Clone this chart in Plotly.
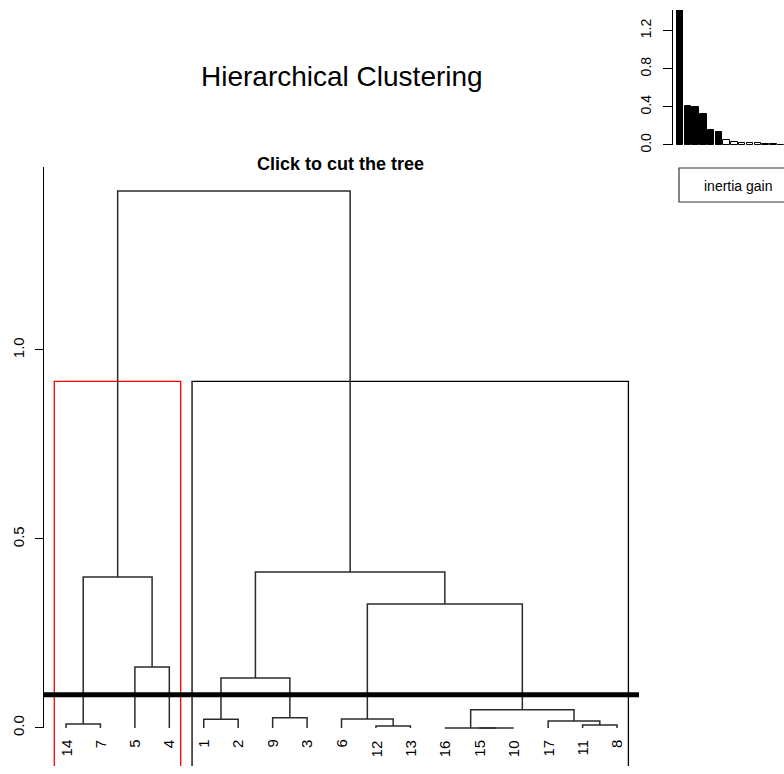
import plotly.graph_objects as go

# ---------------- data ----------------
leaf_labels = ["14", "7", "5", "4", "1", "2", "9", "3", "6", "12", "13",
               "16", "15", "10", "17", "11", "8"]
# hclust-style merges: negative = leaf position (1-based, display order),
# positive = index (1-based) of an earlier merge
merge_left = [-13, -12, -10, -16, -1, -15, -5, -9, -7, 2, 7, -3, 8, 5, 11, 14]
merge_right = [-14, 1, -11, -17, -2, 4, -6, 3, -8, 6, 9, -4, 10, 12, 13, 15]
merge_height = [0.0, 0.0, 0.005, 0.008, 0.0106, 0.0185, 0.023, 0.0235, 0.027,
                0.048, 0.132, 0.161, 0.328, 0.3995, 0.4127, 1.4206]
cut_height = 0.088
n_rect_clusters = 2
rect_colors = ["red", "black"]
y_tick_vals = [0.0, 0.5, 1.0]
y_tick_text = ["0.0", "0.5", "1.0"]
inset_tick_vals = [0.0, 0.4, 0.8, 1.2]
inset_tick_text = ["0.0", "0.4", "0.8", "1.2"]
title_text = "Hierarchical Clustering"
subtitle_text = "Click to cut the tree"
inset_legend_text = "inertia gain"

# ---------------- geometry (pixels) ----------------
W, H = 784, 774
PAGE_S = 782.0 / 774.0          # observed vertical page-to-picture factor
LEAF0_PX, LEAF_STEP = 66.0, 34.44
Y0_PX, Y_SCALE = 728.0, 378.0
FONT = "Liberation Sans, Arial, sans-serif"


def px_to_x(px):
    return 1 + (px - LEAF0_PX) / LEAF_STEP


def py_to_paper(py):
    return (H - py * PAGE_S) / H


x_range = [px_to_x(0), px_to_x(W)]
y_range = [(Y0_PX - H / PAGE_S) / Y_SCALE, Y0_PX / Y_SCALE]

# ---------------- dendrogram ----------------
n_merge = len(merge_height)
node_x = {}


def child_coord(c):
    if c < 0:
        return float(-c), 0.0
    return node_x[c], merge_height[c - 1]


seg_x, seg_y = [], []
for i in range(n_merge):
    xl, hl = child_coord(merge_left[i])
    xr, hr = child_coord(merge_right[i])
    h = merge_height[i]
    node_x[i + 1] = (xl + xr) / 2
    seg_x += [xl, xl, xr, xr, None]
    seg_y += [hl, h, h, hr, None]


def leaves_of(c):
    if c < 0:
        return [-c]
    return leaves_of(merge_left[c - 1]) + leaves_of(merge_right[c - 1])


# clusters for the rectangles (k = n_rect_clusters)
top_merges = set(range(n_merge - n_rect_clusters + 2, n_merge + 1))
roots = []
for m in top_merges:
    for c in (merge_left[m - 1], merge_right[m - 1]):
        if c < 0 or c not in top_merges:
            roots.append(c)
clusters = sorted([sorted(leaves_of(r)) for r in roots], key=lambda l: l[0])
sorted_h = sorted(merge_height, reverse=True)
rect_top = (sorted_h[n_rect_clusters - 2] + sorted_h[n_rect_clusters - 1]) / 2

fig = go.Figure()

for ci, leaves in enumerate(clusters):
    x0 = leaves[0] - 1 + 0.66
    x1 = leaves[-1] + 0.33
    fig.add_trace(go.Scatter(
        x=[x0, x0, x1, x1], y=[y_range[0], rect_top, rect_top, y_range[0]],
        mode="lines", line=dict(color=rect_colors[ci], width=1.3),
        hoverinfo="skip", showlegend=False, xaxis="x", yaxis="y"))

fig.add_trace(go.Scatter(
    x=seg_x, y=seg_y, mode="lines", line=dict(color="#2b2b2b", width=1.5),
    hoverinfo="skip", showlegend=False, xaxis="x", yaxis="y"))

# cut line spans the R plotting region
usr_x = [px_to_x(43), px_to_x(639)]
fig.add_trace(go.Scatter(
    x=usr_x, y=[cut_height, cut_height], mode="lines",
    line=dict(color="black", width=5),
    hoverinfo="skip", showlegend=False, xaxis="x", yaxis="y3"))

# leaf labels
for i, lab in enumerate(leaf_labels):
    fig.add_annotation(
        x=i + 1, y=(Y0_PX - 739) / Y_SCALE, xref="x", yref="y", text=lab,
        textangle=-90, showarrow=False, xanchor="center", yanchor="top",
        borderpad=0, font=dict(family=FONT, size=15, color="black"))

# ---------------- inset: inertia gain ----------------
gain = sorted(merge_height, reverse=True)
n_black = sum(1 for g in gain if g > cut_height)
bar_colors = ["black"] * n_black + ["white"] * (len(gain) - n_black)
BAR0_PX, BAR_STEP = 680.0, 7.78
inset_x_range = [1 + (673 - BAR0_PX) / BAR_STEP, 1 + (W - BAR0_PX) / BAR_STEP]
fig.add_trace(go.Bar(
    x=list(range(1, len(gain) + 1)), y=gain, width=6.5 / BAR_STEP,
    marker=dict(color=bar_colors, line=dict(color="black", width=1)),
    hoverinfo="skip", showlegend=False, xaxis="x2", yaxis="y2"))

INSET_Y0, INSET_TOP = 145.0, 10.0
INSET_SCALE = 95.3

bx0, by0, by1 = 679 / W, py_to_paper(202), py_to_paper(168)
fig.add_shape(type="path", xref="paper", yref="paper",
              path=f"M 1,{by0} L {bx0},{by0} L {bx0},{by1} L 1,{by1}",
              line=dict(color="#333333", width=1.2))
fig.add_annotation(x=738.5 / W, y=py_to_paper(186), xref="paper", yref="paper",
                   text=inset_legend_text, showarrow=False,
                   xanchor="center", yanchor="middle",
                   font=dict(family=FONT, size=14, color="black"))

# titles
fig.add_annotation(x=341.5 / W, y=py_to_paper(77), xref="paper", yref="paper",
                   text=title_text, showarrow=False, xanchor="center",
                   yanchor="middle", font=dict(family=FONT, size=28, color="black"))
fig.add_annotation(x=340.5 / W, y=py_to_paper(164), xref="paper", yref="paper",
                   text="<b>" + subtitle_text + "</b>", showarrow=False,
                   xanchor="center", yanchor="middle",
                   font=dict(family=FONT, size=18, color="black"))

axis_hidden = dict(visible=False, showgrid=False, zeroline=False, fixedrange=True)

fig.update_layout(
    width=W, height=H, margin=dict(l=0, r=0, t=0, b=0),
    paper_bgcolor="white", plot_bgcolor="rgba(0,0,0,0)",
    showlegend=False,
    xaxis=dict(domain=[0, 1], range=x_range, **axis_hidden),
    yaxis=dict(domain=[0, 1], range=y_range, **axis_hidden),
    yaxis3=dict(domain=[py_to_paper(Y0_PX), py_to_paper(167)],
                range=[0, (Y0_PX - 167) / Y_SCALE],
                anchor="free", position=43 / W, side="left",
                showline=True, linecolor="black", linewidth=1.3,
                ticks="outside", ticklen=8, tickwidth=1.3, tickcolor="black",
                tickvals=y_tick_vals, ticktext=y_tick_text, tickangle=-90,
                ticklabelstandoff=5,
                tickfont=dict(family=FONT, size=15, color="black"),
                showgrid=False, zeroline=False, fixedrange=True),
    xaxis2=dict(domain=[673 / W, 1], range=inset_x_range, anchor="y2",
                **axis_hidden),
    yaxis2=dict(domain=[py_to_paper(INSET_Y0), py_to_paper(INSET_TOP)],
                range=[0, (INSET_Y0 - INSET_TOP) / INSET_SCALE], anchor="x2",
                showline=True, linecolor="black", linewidth=1.3,
                ticks="outside", ticklen=9, tickwidth=1.3, tickcolor="black",
                tickvals=inset_tick_vals, ticktext=inset_tick_text,
                tickangle=-90, ticklabelstandoff=6,
                tickfont=dict(family=FONT, size=14, color="black"),
                showgrid=False, zeroline=False, fixedrange=True),
    bargap=0,
)

fig.write_html(
    "out.html",
    config={"displayModeBar": False},
    post_script="document.body.style.margin='0px';"
                "document.body.style.overflow='hidden';",
)
